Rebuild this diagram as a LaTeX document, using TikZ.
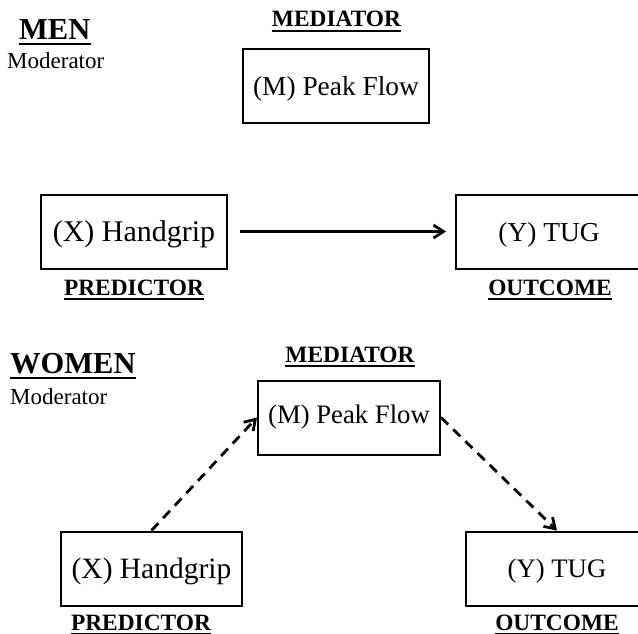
\documentclass[tikz,border=0pt]{standalone}
\usepackage{fontspec}
\setmainfont{Liberation Serif}
\usetikzlibrary{arrows.meta}

\begin{document}
\begin{tikzpicture}[x=1pt,y=-1pt]
	\path [use as bounding box] (0,0) rectangle (638,634);
	\tikzstyle{varbox} = [draw, rectangle, line width=2pt, inner sep=0pt, minimum height=74pt]
	\tikzstyle{roletag} = [inner sep=0pt, anchor=base, font=\bfseries\fontsize{23.4}{26}\selectfont]
	\tikzstyle{sextag} = [inner sep=0pt, anchor=base west, font=\bfseries\fontsize{30.5}{34}\selectfont]
	\tikzstyle{modtag} = [inner sep=0pt, anchor=base west, font=\fontsize{23}{26}\selectfont]
	\tikzstyle{ul} = [line width=2pt]
	\tikzstyle{effect} = [line width=2.8pt, -{Straight Barb[length=10pt,width=13pt]}]
	\tikzstyle{indirect} = [effect, dash pattern=on 10pt off 7pt]
	% men
	\node[sextag] (menTitle) at (19,40) {MEN};
	\node[modtag] (menMod) at (7,69) {Moderator};
	\node[roletag] (menMedTag) at (336.5,27) {MEDIATOR};
	\node[varbox, minimum width=186pt, font=\fontsize{27.4}{30}\selectfont] (menM) at (336,86) {\raisebox{-3pt}[\height][\depth]{(M) Peak Flow}};
	\node[varbox, minimum width=186pt, font=\fontsize{30}{33}\selectfont] (menX) at (134,231.5) {\raisebox{-3pt}[\height][\depth]{(X) Handgrip}};
	\node[varbox, minimum width=186pt, font=\fontsize{27.4}{30}\selectfont] (menY) at (549,231.5) {\raisebox{-3pt}[\height][\depth]{(Y) TUG}};
	\node[roletag] (menPred) at (134,295) {PREDICTOR};
	\node[roletag] (menOut) at (550,295) {OUTCOME};
	\draw[effect, shorten <=12pt, shorten >=9pt] (menX) -- (menY);
	% women
	\node[sextag] (womTitle) at (10,373) {WOMEN};
	\node[modtag] (womMod) at (10,404) {Moderator};
	\node[roletag] (womMedTag) at (350,362) {MEDIATOR};
	\node[varbox, minimum width=182pt, font=\fontsize{26.7}{30}\selectfont] (womM) at (349,417.5) {(M) Peak Flow};
	\node[varbox, minimum width=181pt, font=\fontsize{29.5}{33}\selectfont] (womX) at (151.5,568.5) {\raisebox{-3pt}[\height][\depth]{(X) Handgrip}};
	\node[varbox, minimum width=182pt, font=\fontsize{26.7}{30}\selectfont] (womY) at (557,568.5) {\raisebox{-3pt}[\height][\depth]{(Y) TUG}};
	\node[roletag] (womPred) at (141,630) {PREDICTOR};
	\node[roletag] (womOut) at (557,630) {OUTCOME};
	\draw[indirect] (womX.north) -- (womM.west);
	\draw[indirect] (womM.east) -- (womY.north);
	% underlines
	\foreach \n in {menTitle,menMedTag,menPred,menOut,womTitle,womMedTag,womPred,womOut}
		\draw[ul] ([yshift=-4pt]\n.south west) -- ([yshift=-4pt]\n.south east);
\end{tikzpicture}
\end{document}
